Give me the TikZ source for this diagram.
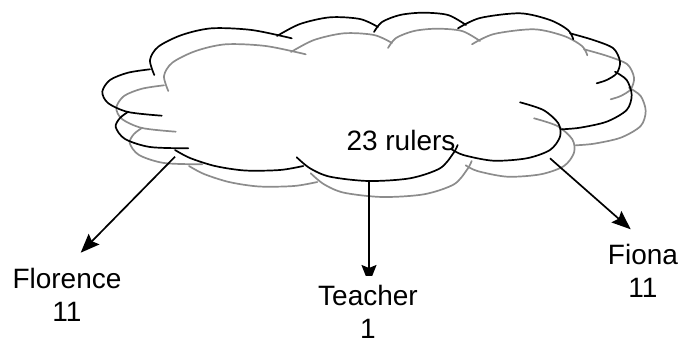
\documentclass[tikz,border=0pt]{standalone}
\usepackage{fontspec}
\setmainfont{Liberation Sans}
\usetikzlibrary{arrows.meta}

% one cloud outline: overlapping bumps whose ends tuck into the inside
\newcommand{\cloudoutline}[1]{%
  \draw[#1] plot[smooth] coordinates {(161.7,115.7) (128,112) (108,103) (102.3,91.7) (110,80) (128,72.7) (150,69.3)};
  \draw[#1] plot[smooth] coordinates {(154.3,75) (150,60) (158.3,46.7) (181.7,35) (211.7,28.3) (251.7,30) (291.7,38.3)};
  \draw[#1] plot[smooth] coordinates {(277,36) (300,24) (330,17.3) (360,19) (378,27)};
  \draw[#1] plot[smooth] coordinates {(374,32) (382,22) (400,15) (423,12.7) (448,15) (466,25)};
  \draw[#1] plot[smooth] coordinates {(458,28.3) (480,18) (520,13.3) (550,20) (568,30) (573.3,39.3)};
  \draw[#1] plot[smooth] coordinates {(570,33.3) (593.3,40) (613.3,48.3) (620,61.7) (616.7,73.3) (606.7,80) (596.7,83.3)};
  \draw[#1] plot[smooth] coordinates {(615,71.7) (626.7,80) (631.7,95) (626.7,110) (606.7,121.7) (580,127.7) (561.7,129.3)};
  \draw[#1] plot[smooth] coordinates {(520,102.3) (543.3,110) (558.3,123.3) (560,136.7) (550,150) (526.7,158.3) (493.3,160.7) (463.3,155) (451.7,149.3)};
  \draw[#1] plot[smooth] coordinates {(457.7,145) (453.3,153.3) (440,168.3) (410,178.3) (368.3,181) (330,176.7) (310,168.3) (296.7,157.3)};
  \draw[#1] plot[smooth] coordinates {(303.3,166) (280,170) (245,170.5) (215,166) (190,158) (175,150)};
  \draw[#1] plot[smooth] coordinates {(188.3,148.3) (150,147) (125,139) (115.7,127) (120,118) (128.3,111.7)};
}

\begin{document}
\begin{tikzpicture}[x=1pt, y=-1pt,
  cloudline/.style={line width=1.7pt, line join=round, line cap=round},
  blackcloud/.style={cloudline, draw=black},
  graycloud/.style={cloudline, draw=black!45},
  arr/.style={line width=1.7pt, -{Stealth[length=19pt, width=15pt, inset=3pt]}},
  lbl/.style={font=\fontsize{28}{32.5}\selectfont, align=center, inner sep=0pt}]
  \useasboundingbox (0,0) rectangle (681,345);

  % shadow cloud behind, then the main cloud
  \begin{scope}[shift={(14,16)}]
    \cloudoutline{graycloud}
  \end{scope}
  \cloudoutline{blackcloud}

  % labels (base anchor sits on the last line)
  \node[lbl, anchor=base] (rulers)   at (401,150.7) {23 rulers};
  \node[lbl, anchor=base] (florence) at (67,321)    {Florence\\11};
  \node[lbl, anchor=base] (teacher)  at (368,338)   {Teacher\\1};
  \node[lbl, anchor=base] (fiona)    at (643,297)   {Fiona\\11};

  % arrow ends on the cloud and near the labels
  \coordinate (src-flo) at (175,156.7);
  \coordinate (tip-flo) at (80.7,252.7);
  \coordinate (src-fio) at (550,158.3);
  \coordinate (tip-fio) at (630.7,229.3);
  \coordinate (src-tea) at (369,181);
  \coordinate (tip-tea) at (369,284);

  \draw[arr] (src-flo) -- (tip-flo);
  \draw[arr] (src-fio) -- (tip-fio);
  % the head of this one is cut off above the label
  \begin{scope}
    \clip (0,0) rectangle (681,275);
    \draw[arr] (src-tea) -- (tip-tea);
  \end{scope}
\end{tikzpicture}
\end{document}
